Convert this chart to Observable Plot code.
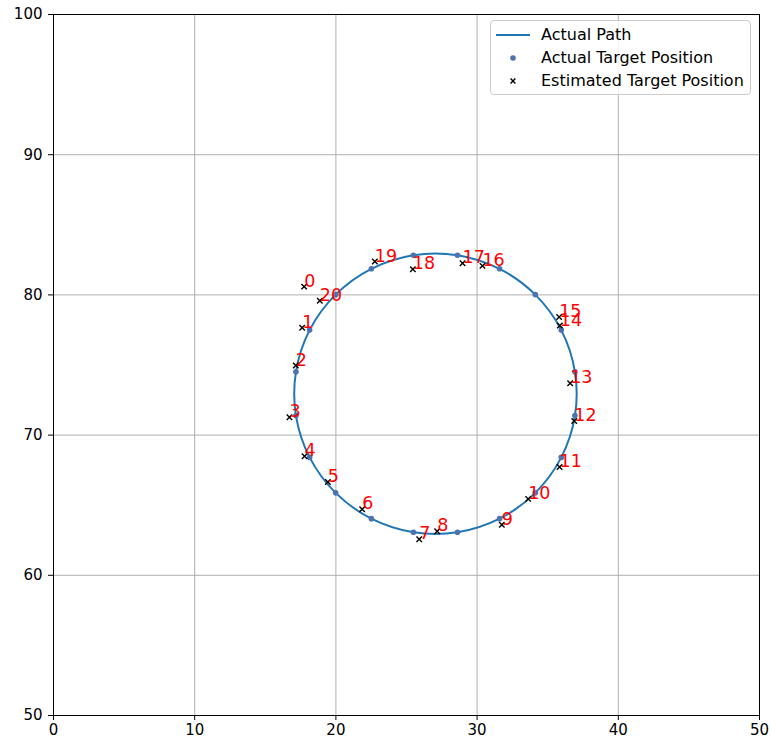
<!DOCTYPE html>
<html>
<head>
<meta charset="utf-8">
<script src="https://cdn.jsdelivr.net/npm/d3@7"></script>
<script src="https://cdn.jsdelivr.net/npm/@observablehq/plot@0.6"></script>
<style>
  html, body { margin: 0; padding: 0; background: #fff; }
  #wrap { position: relative; width: 771px; height: 740px; font-family: "DejaVu Sans", sans-serif; }
  #legend {
    position: absolute; left: 490px; top: 20px; width: 261px; height: 75px;
    box-sizing: border-box; border: 1px solid #cccccc; border-radius: 4px;
    background: rgba(255,255,255,0.8); font-size: 16px; color: #000;
  }
  .row { position: absolute; left: 0; height: 20px; width: 100%; }
  .row span.lbl { position: absolute; left: 50px; top: 0px; line-height: 20px; white-space: nowrap; }
  .row svg { position: absolute; left: 4px; top: 0; }
</style>
</head>
<body>
<div id="wrap">
  <div id="chart"></div>
  <div id="legend"></div>
</div>
<script>
// Actual target positions (index 0..20)
const actualX = [19.98, 18.14, 17.17, 17.17, 18.14, 19.98, 22.51, 25.49, 28.61, 31.59, 34.12, 35.96, 36.93, 36.93, 35.96, 34.12, 31.59, 28.61, 25.49, 22.51, 19.98];
const actualY = [80.02, 77.49, 74.51, 71.39, 68.41, 65.88, 64.04, 63.07, 63.07, 64.04, 65.88, 68.41, 71.39, 74.51, 77.49, 80.02, 81.86, 82.83, 82.83, 81.86, 80.02];
// Estimated target positions (index 0..20)
const estX = [17.75, 17.61, 17.16, 16.71, 17.78, 19.43, 21.86, 25.90, 27.17, 31.75, 33.62, 35.84, 36.88, 36.59, 35.86, 35.81, 30.38, 28.97, 25.45, 22.76, 18.86];
const estY = [80.59, 77.65, 74.96, 71.28, 68.49, 66.66, 64.71, 62.57, 63.14, 63.60, 65.45, 67.73, 71.01, 73.70, 77.81, 78.43, 82.07, 82.26, 81.83, 82.38, 79.59];
const xTicks = [0, 10, 20, 30, 40, 50];
const yTicks = [50, 60, 70, 80, 90, 100];
const legendLabels = ["Actual Path", "Actual Target Position", "Estimated Target Position"];

const actual = actualX.map((x, i) => ({x, y: actualY[i], i}));
const est = estX.map((x, i) => ({x, y: estY[i], label: String(i)}));
const path = actual.slice(0, 20); // closed loop (point 20 equals point 0)

const font = "DejaVu Sans, sans-serif";
const chart = Plot.plot({
  width: 771,
  height: 740,
  marginLeft: 53,
  marginRight: 12,
  marginTop: 14,
  marginBottom: 25,
  style: {fontFamily: font, background: "#fff", color: "black"},
  x: {domain: [0, 50], ticks: xTicks},
  y: {domain: [50, 100], ticks: yTicks},
  marks: [
    Plot.gridX(xTicks, {stroke: "#b0b0b0", strokeOpacity: 1, strokeWidth: 1}),
    Plot.gridY(yTicks, {stroke: "#b0b0b0", strokeOpacity: 1, strokeWidth: 1}),
    Plot.line(path, {x: "x", y: "y", curve: "catmull-rom-closed", stroke: "#1f77b4", strokeWidth: 2}),
    Plot.dot(actual, {x: "x", y: "y", r: 2.8, fill: "#4c72b0", stroke: "none"}),
    Plot.dot(est, {x: "x", y: "y", symbol: "times", r: 2.6, stroke: "#000", strokeWidth: 1.4}),
    Plot.text(est, {x: "x", y: "y", text: "label", fill: "red", fontSize: 17.5, textAnchor: "start", lineAnchor: "bottom", fontFamily: font}),
    Plot.frame({stroke: "#000", strokeWidth: 1}),
    Plot.axisX(xTicks, {tickSize: 5, tickPadding: 4, fontSize: 15, stroke: "#000", fill: "#000", label: null}),
    Plot.axisY(yTicks, {tickSize: 5, tickPadding: 6, fontSize: 15, stroke: "#000", fill: "#000", label: null})
  ]
});
document.getElementById("chart").appendChild(chart);

// Legend
const legend = document.getElementById("legend");
const rowTops = [4, 27, 50];
const sym = [
  '<svg width="40" height="20"><line x1="1" y1="10" x2="35" y2="10" stroke="#1f77b4" stroke-width="2"/></svg>',
  '<svg width="40" height="20"><circle cx="18" cy="10" r="2.8" fill="#4c72b0"/></svg>',
  '<svg width="40" height="20"><path d="M15.6,7.6L20.4,12.4M20.4,7.6L15.6,12.4" stroke="#000" stroke-width="1.4"/></svg>'
];
legendLabels.forEach((t, k) => {
  const row = document.createElement("div");
  row.className = "row";
  row.style.top = rowTops[k] + "px";
  row.innerHTML = sym[k] + '<span class="lbl">' + t + '</span>';
  legend.appendChild(row);
});
</script>
</body>
</html>
